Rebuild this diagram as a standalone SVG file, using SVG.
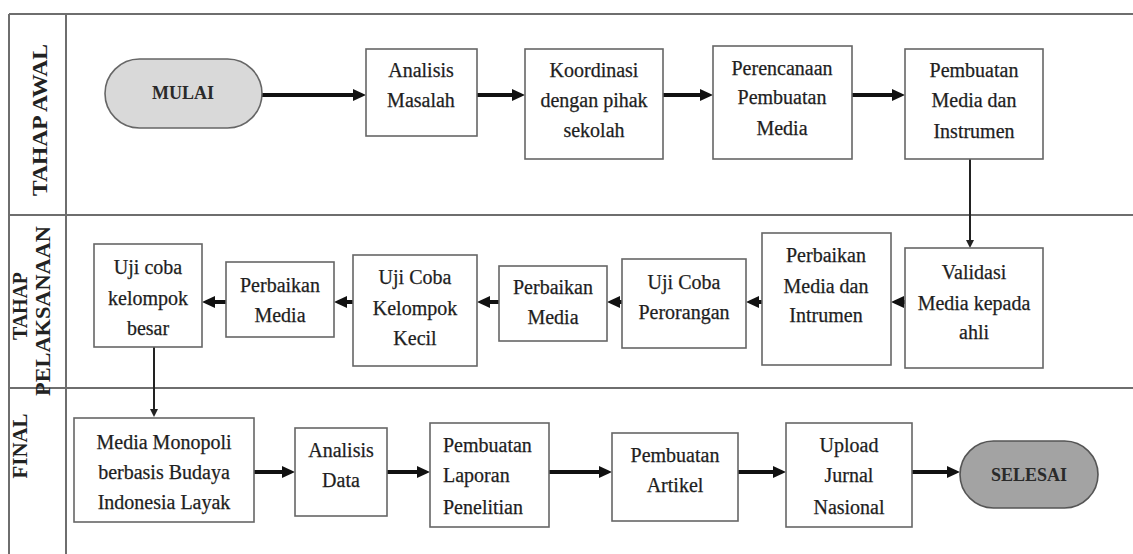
<svg xmlns="http://www.w3.org/2000/svg" width="1133" height="554" viewBox="0 0 1133 554">
<style>
.frame{fill:none;stroke:#6e6e6e;stroke-width:2}
.box{fill:#fff;stroke:#666;stroke-width:1.6}
.t{font-family:"Liberation Serif","Times New Roman",serif;font-size:20px;fill:#1e1e1e;stroke:#1e1e1e;stroke-width:0.25;text-anchor:middle}
.tl{font-family:"Liberation Serif","Times New Roman",serif;font-size:20px;fill:#1e1e1e;stroke:#1e1e1e;stroke-width:0.25;text-anchor:start}
.lane{font-family:"Liberation Serif","Times New Roman",serif;font-size:22px;font-weight:bold;fill:#222;text-anchor:middle}
.term{font-family:"Liberation Serif","Times New Roman",serif;font-size:18px;font-weight:bold;fill:#2a2a2a;text-anchor:middle}
.c{fill:none;stroke:#111;stroke-width:4;marker-end:url(#ah)}
.cv{fill:none;stroke:#222;stroke-width:2;marker-end:url(#ahs)}
</style>
<defs>
<marker id="ah" viewBox="0 0 13 12" markerUnits="userSpaceOnUse" markerWidth="13" markerHeight="12" refX="3" refY="6" orient="auto"><path d="M0,0 L13,6 L0,12 z" fill="#111"/></marker>
<marker id="ahs" viewBox="0 0 8 8" markerUnits="userSpaceOnUse" markerWidth="8" markerHeight="8" refX="2" refY="4" orient="auto"><path d="M0,0 L8,4 L0,8 z" fill="#222"/></marker>
</defs>
<rect width="1133" height="554" fill="#fff"/>
<g id="swimlanes">
<path class="frame" d="M9,14 H1133 M9,215 H1133 M9,388 H1133 M9,14 V554 M66,14 V554"/>
<text class="lane" transform="translate(47,120) rotate(-90)" textLength="152" lengthAdjust="spacingAndGlyphs">TAHAP AWAL</text>
<text class="lane" font-size="20" transform="translate(27,306) rotate(-90)" textLength="68" lengthAdjust="spacingAndGlyphs">TAHAP</text>
<text class="lane" font-size="20" transform="translate(50,311) rotate(-90)" textLength="170" lengthAdjust="spacingAndGlyphs">PELAKSANAAN</text>
<text class="lane" font-size="20" transform="translate(27,446) rotate(-90)" textLength="65" lengthAdjust="spacingAndGlyphs">FINAL</text>
</g>
<g id="connectors">
<path class="c" d="M262,95 H356"/>
<path class="c" d="M477,95 H515"/>
<path class="c" d="M663,95 H703"/>
<path class="c" d="M852,95 H895"/>
<path class="cv" d="M970,159 V242"/>
<path class="c" d="M905,302 H901"/>
<path class="c" d="M762,302 H756"/>
<path class="c" d="M622,302 H617"/>
<path class="c" d="M499,302 H487"/>
<path class="c" d="M353,302 H344"/>
<path class="c" d="M226,302 H212"/>
<path class="cv" d="M154,347 V411"/>
<path class="c" d="M254,472 H285"/>
<path class="c" d="M387,472 H420"/>
<path class="c" d="M549,472 H602"/>
<path class="c" d="M738,472 H776"/>
<path class="c" d="M912,472 H950"/>
</g>
<g id="mulai">
<rect x="105" y="59" width="157" height="69" rx="34.5" fill="#d9d9d9" stroke="#666" stroke-width="1.6"/>
<text class="term" x="183" y="99">MULAI</text>
</g>
<g id="analisis-masalah">
<rect class="box" x="366" y="49" width="111" height="87"/>
<text class="t" x="421" y="77">Analisis</text>
<text class="t" x="421" y="107">Masalah</text>
</g>
<g id="koordinasi">
<rect class="box" x="525" y="49" width="138" height="110"/>
<text class="t" x="594" y="77">Koordinasi</text>
<text class="t" x="594" y="107">dengan pihak</text>
<text class="t" x="594" y="137">sekolah</text>
</g>
<g id="perencanaan">
<rect class="box" x="713" y="46" width="139" height="113"/>
<text class="t" x="782" y="75">Perencanaan</text>
<text class="t" x="782" y="104">Pembuatan</text>
<text class="t" x="782" y="135">Media</text>
</g>
<g id="pembuatan-media">
<rect class="box" x="905" y="49" width="138" height="110"/>
<text class="t" x="974" y="77">Pembuatan</text>
<text class="t" x="974" y="107">Media dan</text>
<text class="t" x="974" y="138">Instrumen</text>
</g>
<g id="validasi">
<rect class="box" x="905" y="248" width="138" height="120"/>
<text class="t" x="974" y="279">Validasi</text>
<text class="t" x="974" y="310">Media kepada</text>
<text class="t" x="974" y="339">ahli</text>
</g>
<g id="perbaikan-media-instrumen">
<rect class="box" x="762" y="233" width="129" height="132"/>
<text class="t" x="826" y="262">Perbaikan</text>
<text class="t" x="826" y="293">Media dan</text>
<text class="t" x="826" y="322">Intrumen</text>
</g>
<g id="uji-coba-perorangan">
<rect class="box" x="622" y="259" width="124" height="89"/>
<text class="t" x="684" y="289">Uji Coba</text>
<text class="t" x="684" y="319">Perorangan</text>
</g>
<g id="perbaikan-media-2">
<rect class="box" x="499" y="266" width="108" height="75"/>
<text class="t" x="553" y="294">Perbaikan</text>
<text class="t" x="553" y="324">Media</text>
</g>
<g id="uji-coba-kelompok-kecil">
<rect class="box" x="353" y="255" width="124" height="111"/>
<text class="t" x="415" y="284">Uji Coba</text>
<text class="t" x="415" y="315">Kelompok</text>
<text class="t" x="415" y="345">Kecil</text>
</g>
<g id="perbaikan-media-1">
<rect class="box" x="226" y="262" width="108" height="75"/>
<text class="t" x="280" y="292">Perbaikan</text>
<text class="t" x="280" y="322">Media</text>
</g>
<g id="uji-coba-kelompok-besar">
<rect class="box" x="94" y="244" width="108" height="103"/>
<text class="t" x="148" y="274">Uji coba</text>
<text class="t" x="148" y="305">kelompok</text>
<text class="t" x="148" y="335">besar</text>
</g>
<g id="media-monopoli">
<rect class="box" x="74" y="418" width="180" height="104"/>
<text class="t" x="164" y="449">Media Monopoli</text>
<text class="t" x="164" y="479">berbasis Budaya</text>
<text class="t" x="164" y="509">Indonesia Layak</text>
</g>
<g id="analisis-data">
<rect class="box" x="295" y="428" width="92" height="88"/>
<text class="t" x="341" y="457">Analisis</text>
<text class="t" x="341" y="487">Data</text>
</g>
<g id="laporan-penelitian">
<rect class="box" x="430" y="423" width="119" height="104"/>
<text class="tl" x="443" y="452">Pembuatan</text>
<text class="tl" x="443" y="482">Laporan</text>
<text class="tl" x="443" y="514">Penelitian</text>
</g>
<g id="pembuatan-artikel">
<rect class="box" x="612" y="433" width="126" height="88"/>
<text class="t" x="675" y="462">Pembuatan</text>
<text class="t" x="675" y="492">Artikel</text>
</g>
<g id="upload-jurnal">
<rect class="box" x="786" y="423" width="126" height="104"/>
<text class="t" x="849" y="452">Upload</text>
<text class="t" x="849" y="482">Jurnal</text>
<text class="t" x="849" y="514">Nasional</text>
</g>
<g id="selesai">
<rect x="960" y="441" width="138" height="67" rx="33.5" fill="#a3a3a3" stroke="#555" stroke-width="1.6"/>
<text class="term" x="1029" y="481">SELESAI</text>
</g>
</svg>
